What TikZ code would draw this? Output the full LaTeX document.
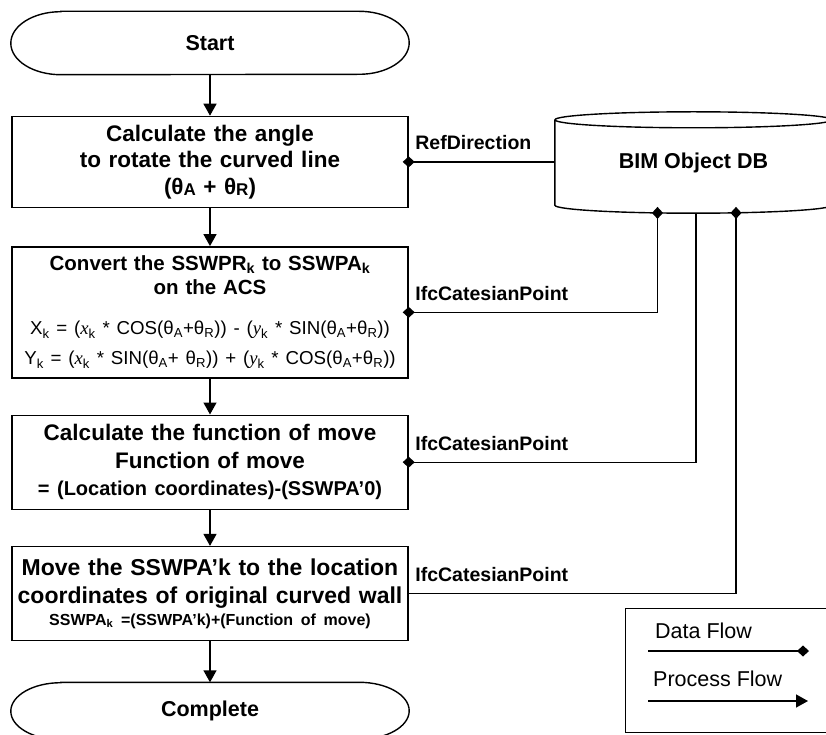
\documentclass[tikz,border=0pt]{standalone}
\usepackage{fontspec}
\setmainfont{Liberation Sans}
\newfontfamily\varfont{Liberation Serif}
\usetikzlibrary{arrows.meta,positioning,calc}
\newcommand{\coordx}{{\varfont\itshape x}}
\newcommand{\coordy}{{\varfont\itshape y}}
\newcommand{\angsub}[1]{\raisebox{-0.12ex}{\fontsize{17}{17}\selectfont #1}}
\tikzset{
  flowbox/.style={draw,line width=1.4pt,minimum width=396pt,text width=392pt,inner sep=2pt,align=center,font=\bfseries\fontsize{22.5}{26.5}\selectfont},
  flowterm/.style={minimum width=398pt,minimum height=63pt,inner sep=0pt,font=\bfseries\fontsize{21.5}{25}\selectfont},
  procflow/.style={-{Triangle[length=12pt,width=13pt]},line width=1.4pt},
  dataflow/.style={-{Diamond[length=12pt,width=11pt]},shorten >=-6pt,line width=1.4pt},
  databoth/.style={{Diamond[length=12pt,width=11pt]}-{Diamond[length=12pt,width=11pt]},shorten <=-6pt,shorten >=-6pt,line width=1.4pt},
  datastart/.style={{Diamond[length=12pt,width=11pt]}-,shorten <=-6pt,line width=1.4pt},
  datalabel/.style={font=\bfseries\fontsize{19.5}{22}\selectfont,anchor=base west,inner sep=0pt,xshift=6pt,yshift=12pt},
  legtext/.style={font=\fontsize{21.5}{25}\selectfont,anchor=base west,inner sep=0pt},
}

\begin{document}
\begin{tikzpicture}[x=1pt,y=-1pt]
\useasboundingbox (0,0) rectangle (826,735);
% main process column
\node[flowterm] (start) at (210,43) {Start};
\node[flowbox,minimum height=91pt,below=41pt of start] (angle) {Calculate the angle\\to rotate the curved line\\(θ\angsub{A} + θ\angsub{R})};
\node[flowbox,minimum height=131pt,below=38pt of angle,font=\bfseries\fontsize{20.5}{24}\selectfont] (convert) {Convert the SSWPR\textsubscript{k} to SSWPA\textsubscript{k}\\on the ACS\\[16pt]
{\mdseries\fontsize{18.7}{24}\selectfont X\textsubscript{k} = (\coordx\textsubscript{k} * COS(θ\textsubscript{A}+θ\textsubscript{R})) - (\coordy\textsubscript{k} * SIN(θ\textsubscript{A}+θ\textsubscript{R}))\\[6pt]
Y\textsubscript{k} = (\coordx\textsubscript{k} * SIN(θ\textsubscript{A}+ θ\textsubscript{R})) + (\coordy\textsubscript{k} * COS(θ\textsubscript{A}+θ\textsubscript{R}))}};
\node[flowbox,minimum height=94pt,below=36pt of convert,font=\bfseries\fontsize{22.5}{28}\selectfont] (fmove) {Calculate the function of move\\Function of move\\[-1pt]
{\fontsize{20}{22}\selectfont = (Location coordinates)-(SSWPA'0)}};
\node[flowbox,minimum height=94pt,below=36pt of fmove,font=\bfseries\fontsize{23}{28}\selectfont] (move) {Move the SSWPA'k to the location\\coordinates of original curved wall\\[-6pt]
{\fontsize{16}{20}\selectfont SSWPA\textsubscript{k} =(SSWPA'k)+(Function of move)}};
\node[flowterm,minimum height=57pt,below=41pt of move] (done) {Complete};

% terminal outlines
\foreach \t/\r in {start/31.5,done/28.5}
  \draw[line width=1.4pt] ([xshift=50pt]\t.north west) -- ([xshift=-50pt]\t.north east)
    arc[start angle=90,end angle=-90,x radius=50pt,y radius=\r pt]
    -- ([xshift=50pt]\t.south west)
    arc[start angle=270,end angle=90,x radius=50pt,y radius=\r pt] -- cycle;

\foreach \a/\b in {start/angle,angle/convert,convert/fmove,fmove/move,move/done}
  \draw[procflow] (\a) -- (\b);

% database
\node[minimum width=277pt,minimum height=85pt,inner sep=0pt,font=\bfseries\fontsize{21.5}{25}\selectfont] (db) at (693.5,162.5) {BIM Object DB};
\draw[line width=1.4pt] (db.north west) -- (db.south west)
  arc[start angle=180,end angle=360,x radius=138.5pt,y radius=8pt] -- (db.north east)
  (db.north) ellipse[x radius=138.5pt,y radius=8pt];

% data flows
\draw[dataflow] (angle.east -| db.west) -- (angle.east) node[datalabel] {RefDirection};
\draw[databoth] ([xshift=-36pt,yshift=-7.7pt]db.south) |- (convert.east) node[datalabel] {IfcCatesianPoint};
\draw[dataflow] ([xshift=2.5pt,yshift=-7.7pt]db.south) |- (fmove.east) node[datalabel] {IfcCatesianPoint};
\draw[datastart] ([xshift=42.5pt,yshift=-7.7pt]db.south) |- (move.east) node[datalabel] {IfcCatesianPoint};

% legend
\node[draw,line width=1.4pt,minimum width=212pt,minimum height=124pt,anchor=north west,inner sep=0pt] (legend) at (625,608) {};
\node[legtext] (dflabel) at (655,638) {Data Flow};
\node[legtext] (pflabel) at (653,686) {Process Flow};
\coordinate (dfa) at (648,651);
\coordinate (dfb) at (809,651);
\coordinate (pfa) at (648,701);
\coordinate (pfb) at (808,701);
\draw[dataflow,shorten >=0pt] (dfa) -- (dfb);
\draw[procflow] (pfa) -- (pfb);
\end{tikzpicture}
\end{document}
